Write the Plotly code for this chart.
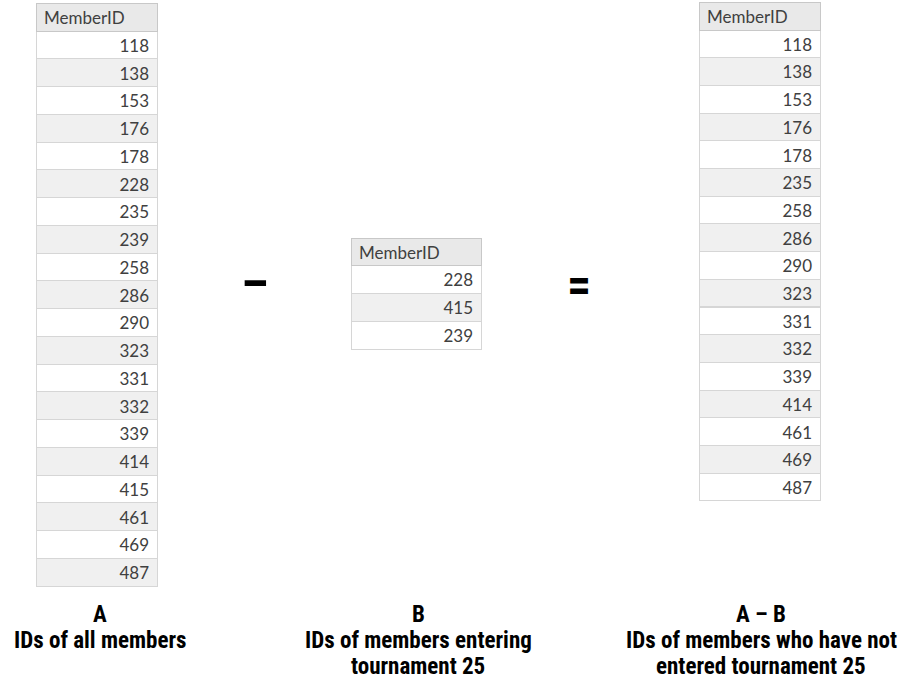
import plotly.graph_objects as go

W, H = 915, 680

header_label = "MemberID"
ids_all = [118, 138, 153, 176, 178, 228, 235, 239, 258, 286, 290, 323, 331, 332, 339, 414, 415, 461, 469, 487]
ids_entered = [228, 415, 239]
ids_not_entered = [118, 138, 153, 176, 178, 235, 258, 286, 290, 323, 331, 332, 339, 414, 461, 469, 487]

captions = [
    ["A", "IDs of all members"],
    ["B", "IDs of members entering", "tournament 25"],
    ["A – B", "IDs of members who have not", "entered tournament 25"],
]

TABLE_FONT = "Lato, 'Open Sans', sans-serif"
CAP_FONT = "'Liberation Sans Narrow', 'Roboto Condensed', Roboto, sans-serif"


def fx(x):
    return x / W


def fy(y):
    return 1 - y / H


def fills(n):
    return ["#ffffff" if i % 2 == 0 else "#f0f0f0" for i in range(n)]


def make_table(values, x0, x1, ytop, head_h, row_h):
    txt = [str(v) for v in values]
    return go.Table(
        domain=dict(x=[fx(x0), fx(x1)], y=[0.0, fy(ytop)]),
        columnwidth=[1],
        header=dict(
            values=[header_label],
            align="left",
            height=head_h,
            fill_color="#e9e9e9",
            line=dict(color="#c8c8c8", width=1),
            font=dict(family=TABLE_FONT, size=17, color="#404040"),
        ),
        cells=dict(
            values=[txt],
            align="right",
            height=row_h,
            fill_color=[fills(len(values))],
            line=dict(color="#d6d6d6", width=1),
            font=dict(family=TABLE_FONT, size=17, color="#404040"),
        ),
    )


fig = go.Figure()
fig.add_trace(make_table(ids_all, 36, 157, 3, 28, 27.75))
fig.add_trace(make_table(ids_entered, 351, 482, 238, 27, 28))
fig.add_trace(make_table(ids_not_entered, 699, 821, 2, 28, 27.7))

cap_x = [100, 418, 761]
line_y = [614, 640, 666]
annotations = []
for cx, lines in zip(cap_x, captions):
    for ly, t in zip(line_y, lines):
        annotations.append(dict(
            x=fx(cx), y=fy(ly), xref="paper", yref="paper",
            xanchor="center", yanchor="middle", showarrow=False,
            text="<b>" + t + "</b>",
            font=dict(family=CAP_FONT, size=23, color="#000000"),
        ))

# operator symbols
annotations.append(dict(x=fx(255), y=fy(284), xref="paper", yref="paper",
                        xanchor="center", yanchor="middle", showarrow=False,
                        text="<b>–</b>", font=dict(family=CAP_FONT, size=50, color="#000")))
annotations.append(dict(x=fx(579), y=fy(284), xref="paper", yref="paper",
                        xanchor="center", yanchor="middle", showarrow=False,
                        text="<b>=</b>", font=dict(family=CAP_FONT, size=48, color="#000")))

fig.update_layout(
    width=W, height=H,
    margin=dict(l=0, r=0, t=0, b=0),
    paper_bgcolor="#ffffff", plot_bgcolor="#ffffff",
    annotations=annotations,
    showlegend=False,
)

fig.write_html("out.html", config={"displayModeBar": False},
               post_script="document.body.style.margin='0px';")
